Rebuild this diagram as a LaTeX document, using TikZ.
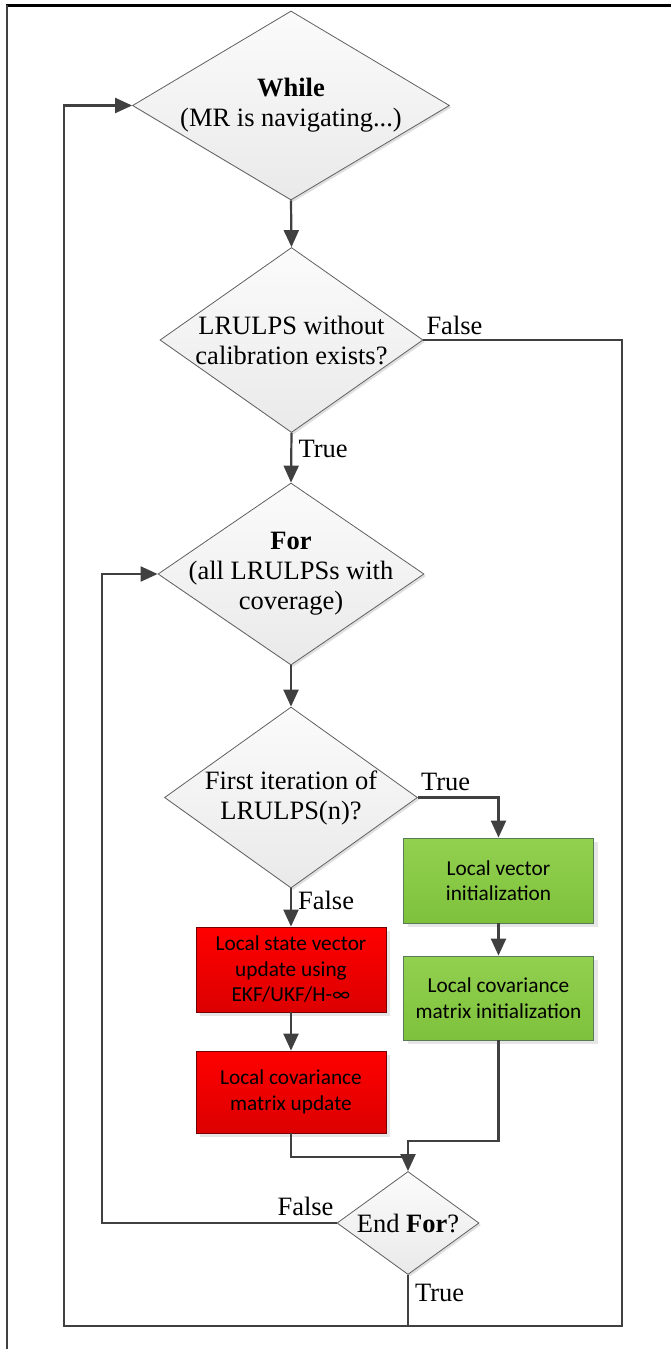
\documentclass[tikz,border=0pt]{standalone}
\usepackage{fontspec}
\setmainfont{LiberationSerif}[Extension=.ttf,UprightFont=*-Regular,BoldFont=*-Bold,
  ItalicFont=*-Italic,BoldItalicFont=*-BoldItalic]
\newfontfamily\boxfont{Carlito}
\usetikzlibrary{positioning,arrows.meta,shapes.geometric,shadows}
\definecolor{linegray}{HTML}{404040}
\definecolor{redtop}{HTML}{FF0000}
\definecolor{redbot}{HTML}{DC0000}
\definecolor{greentop}{HTML}{92D050}
\definecolor{greenbot}{HTML}{7EC23C}
\tikzset{
  decision/.style={diamond,draw=gray!75!black,line width=0.8pt,top color=gray!3,bottom color=gray!17,
                   inner sep=0pt,drop shadow={shadow xshift=2pt,shadow yshift=-2pt,opacity=.25}},
  dtext/.style={font=\rmfamily\fontsize{26.5}{30}\selectfont,align=center,inner sep=0pt},
  process/.style={rectangle,line width=0.8pt,minimum width=190pt,minimum height=84pt,inner sep=0pt,
                  align=center,font=\boxfont\fontsize{21.3}{25.5}\selectfont,
                  drop shadow={shadow xshift=4pt,shadow yshift=-4pt,opacity=.2}},
  update/.style={process,top color=redtop,bottom color=redbot,draw=red!45!black},
  init/.style={process,top color=greentop,bottom color=greenbot,draw=green!20!black!65},
  lbl/.style={font=\rmfamily\fontsize{26.5}{30}\selectfont,inner sep=2pt},
  edge/.style={-{Triangle[length=17pt,width=15pt]},line width=2.2pt,draw=linegray},
  wire/.style={line width=2.2pt,draw=linegray},
}
\begin{document}
\begin{tikzpicture}[x=1pt,y=-1pt]
  \useasboundingbox (0,0) rectangle (671,1349);
  \draw[line width=3pt] (6,5) -- (671,5);
  \draw[linegray,line width=1.5pt] (7,5) -- (7,1349);

  \node[decision,minimum width=317pt,minimum height=189pt,
        label={[dtext]center:\textbf{While}\\(MR is navigating...)}] (while) at (291,105.5) {};
  \node[decision,minimum width=263pt,minimum height=185pt,
        label={[dtext]center:LRULPS without\\calibration exists?}] (cal) at (291.5,340) {};
  \node[decision,minimum width=266pt,minimum height=182pt,
        label={[dtext]center:\textbf{For}\\(all LRULPSs with\\coverage)}] (for) at (291,574) {};
  \node[decision,minimum width=253pt,minimum height=181pt,
        label={[dtext]center:First iteration of\\LRULPS(n)?}] (first) at (291,797.5) {};
  \node[decision,minimum width=142pt,minimum height=103pt,
        label={[dtext]center:End \textbf{For}?}] (endfor) at (408,1223) {};

  \node[update,minimum height=85pt] (kfupd) at (291,969.5) {Local state vector\\update using\\EKF/UKF/H-∞};
  \node[update,minimum height=82pt] (covupd) at (291,1092) {Local covariance\\matrix update};
  \node[init,minimum height=85pt] (vecinit) at (498.5,880.5) {Local vector\\initialization};
  \node[init] (covinit) at (498.5,998) {Local covariance\\matrix initialization};

  \coordinate (outerR) at (622,1326);
  \coordinate (outerL) at (64,1326);
  \coordinate (back) at (102,1223);
  \coordinate (join) at (408,1141);
  \coordinate (meet) at (408,1157);

  \draw[edge] (while.south) -- (cal.north);
  \draw[edge] (cal.south) node[lbl,anchor=north west,xshift=4pt,yshift=-4pt]{True} -- (for.north);
  \draw[edge] (cal.east) node[lbl,anchor=south west,yshift=2pt]{False} -| (outerR) -- (outerL) |- (while.west);
  \draw[edge] (for.south) -- (first.north);
  \draw[edge] (first.east) node[lbl,anchor=south west,yshift=4pt]{True} -| (vecinit.north);
  \draw[edge] (first.south) node[lbl,anchor=north west,xshift=4pt]{False} -- (kfupd.north);
  \draw[edge] (kfupd) -- (covupd);
  \draw[edge] (vecinit) -- (covinit);
  \draw[wire] (covupd.south) |- (meet);
  \draw[edge] (covinit.south) |- (join) -- (endfor.north);
  \draw[edge] (endfor.west) node[lbl,anchor=south east,yshift=4pt]{False} -- (back) |- (for.west);
  \draw[wire] (endfor.south) node[lbl,anchor=north west,xshift=4pt,yshift=-6pt]{True} -- (endfor.south |- outerL);
\end{tikzpicture}
\end{document}
